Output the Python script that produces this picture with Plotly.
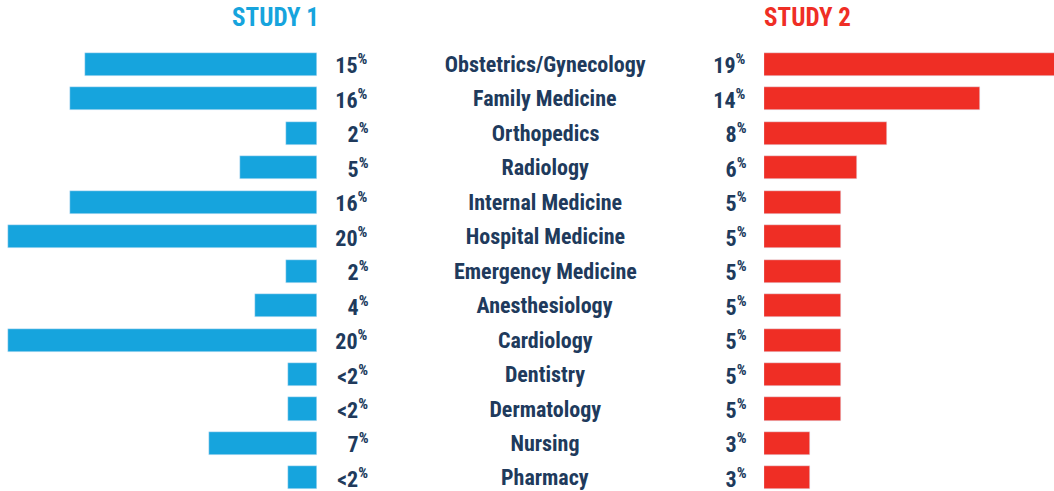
import plotly.graph_objects as go

categories = ["Obstetrics/Gynecology", "Family Medicine", "Orthopedics", "Radiology",
              "Internal Medicine", "Hospital Medicine", "Emergency Medicine",
              "Anesthesiology", "Cardiology", "Dentistry", "Dermatology", "Nursing", "Pharmacy"]
study1_values = [15, 16, 2, 5, 16, 20, 2, 4, 20, 1.9, 1.9, 7, 1.9]
study1_labels = ["15", "16", "2", "5", "16", "20", "2", "4", "20", "<2", "<2", "7", "<2"]
study2_values = [19, 14, 8, 6, 5, 5, 5, 5, 5, 5, 5, 3, 3]
study2_labels = ["19", "14", "8", "6", "5", "5", "5", "5", "5", "5", "5", "3", "3"]

BLUE = "#16a4dd"
RED = "#ef2e25"
NAVY = "#203a5c"
FAM = "Roboto"
W, H = 1054, 491


def tfont(size, color):
    return dict(family=FAM, size=size, color=color, weight="bold")


fig = go.Figure()
fig.add_trace(go.Bar(y=categories, x=study1_values, orientation="h", marker_color=BLUE,
                     width=0.67, xaxis="x", yaxis="y", hoverinfo="skip"))
fig.add_trace(go.Bar(y=categories, x=study2_values, orientation="h", marker_color=RED,
                     width=0.67, xaxis="x2", yaxis="y", hoverinfo="skip"))

annotations = []
for cat, lab in zip(categories, study1_labels):
    annotations.append(dict(x=372 / W, xref="paper", y=cat, yref="y", xanchor="right",
                            text=f"{lab}<sup>%</sup>", showarrow=False, font=tfont(22, NAVY)))
for cat, lab in zip(categories, study2_labels):
    annotations.append(dict(x=750 / W, xref="paper", y=cat, yref="y", xanchor="right",
                            text=f"{lab}<sup>%</sup>", showarrow=False, font=tfont(22, NAVY)))
for cat in categories:
    annotations.append(dict(x=545 / W, xref="paper", y=cat, yref="y", xanchor="center",
                            text=cat, showarrow=False, font=tfont(22, NAVY)))
annotations.append(dict(x=275 / W, xref="paper", xanchor="center", y=1, yref="paper",
                        yanchor="bottom", yshift=6, text="STUDY 1", showarrow=False,
                        font=tfont(25, BLUE)))
annotations.append(dict(x=807 / W, xref="paper", xanchor="center", y=1, yref="paper",
                        yanchor="bottom", yshift=6, text="STUDY 2", showarrow=False,
                        font=tfont(25, RED)))

fig.update_layout(
    width=W, height=H,
    margin=dict(l=0, r=0, t=40, b=0),
    paper_bgcolor="white", plot_bgcolor="white",
    showlegend=False,
    bargap=0,
    xaxis=dict(domain=[0, 317 / W], range=[20.52, 0], visible=False, fixedrange=True),
    xaxis2=dict(domain=[764 / W, 1], range=[0, 18.8], visible=False, fixedrange=True),
    yaxis=dict(type="category", categoryarray=categories, range=[12.38, -0.711],
               visible=False, fixedrange=True),
    annotations=annotations,
)

fig.write_html("out.html", config={"displayModeBar": False},
               post_script="document.body.style.margin='0';document.body.style.overflow='hidden';"
                           "document.querySelectorAll('text').forEach(function(e){e.style.fontStretch='75%';});")
